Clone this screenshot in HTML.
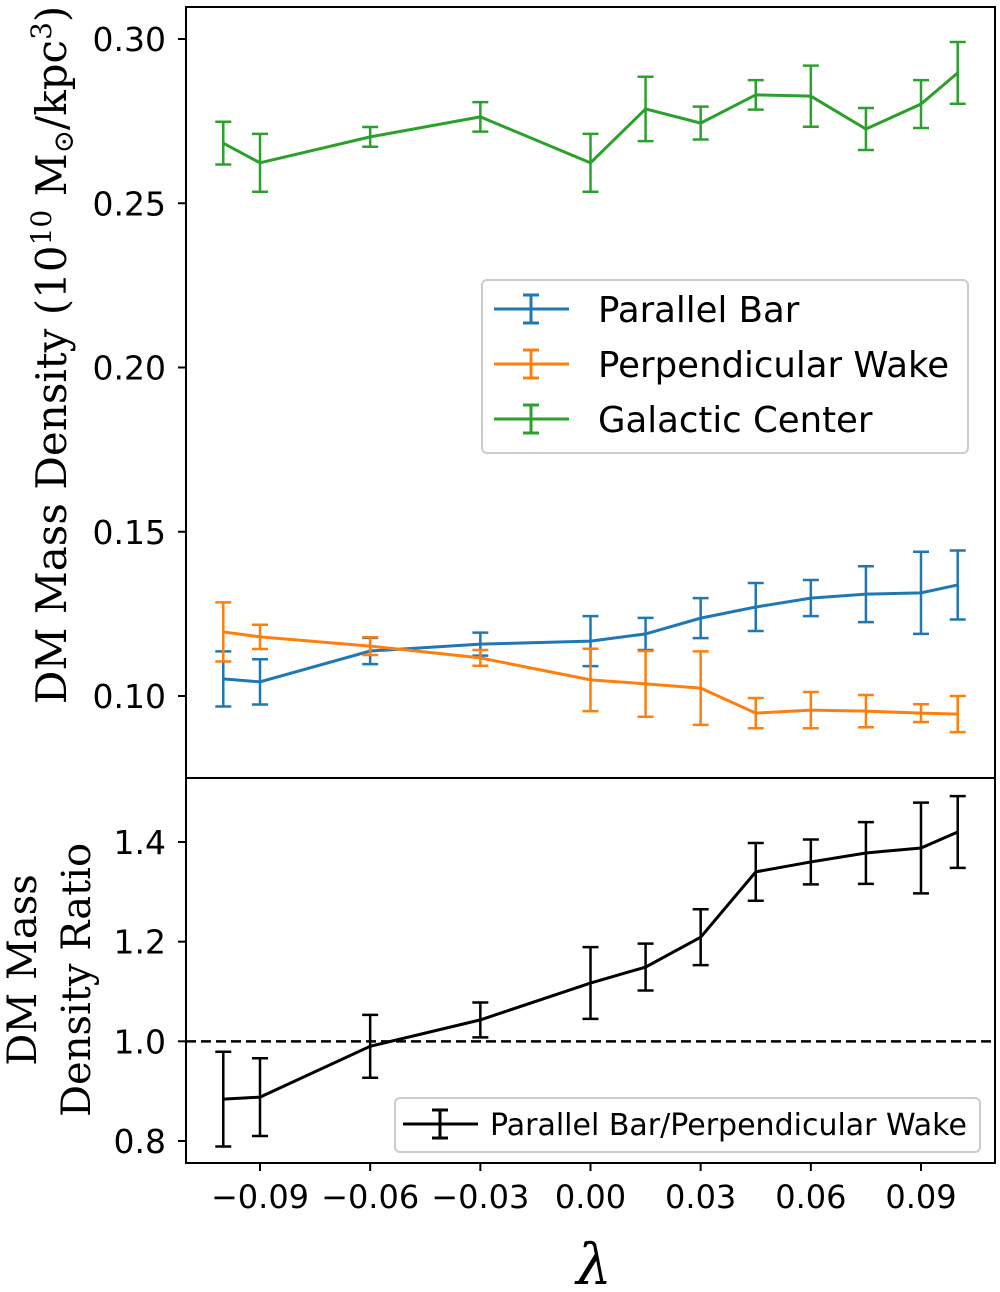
<!DOCTYPE html>
<html><head><meta charset="utf-8"><style>
body{margin:0;background:#fff;width:1000px;height:1292px;overflow:hidden}
svg{display:block}
</style></head><body>
<svg id="chart" width="1000" height="1292" xmlns="http://www.w3.org/2000/svg"></svg>
<script>
const xs=[-0.1,-0.09,-0.06,-0.03,0,0.015,0.03,0.045,0.06,0.075,0.09,0.1];
const greenVals=[0.2683,0.2623,0.2702,0.2763,0.2623,0.2787,0.2744,0.2830,0.2826,0.2726,0.2802,0.2897];
const greenErr=[0.0065,0.0088,0.003,0.0045,0.0088,0.0098,0.005,0.0045,0.0093,0.0064,0.0073,0.0094];
const blueVals=[0.1052,0.1043,0.1137,0.1158,0.1167,0.1189,0.1237,0.1271,0.1298,0.1310,0.1314,0.1338];
const blueErr=[0.0084,0.0069,0.004,0.0035,0.0076,0.0049,0.0061,0.0073,0.0055,0.0085,0.0125,0.0105];
const orangeVals=[0.1195,0.1180,0.1152,0.1116,0.1049,0.1037,0.1024,0.0948,0.0957,0.0954,0.0948,0.0945];
const orangeErr=[0.009,0.0037,0.0027,0.0024,0.0095,0.010,0.0112,0.0046,0.0055,0.0049,0.0027,0.0055];
const ratioVals=[0.884,0.888,0.990,1.043,1.117,1.149,1.209,1.340,1.360,1.378,1.388,1.420];
const ratioErr=[0.095,0.078,0.063,0.035,0.072,0.047,0.056,0.058,0.045,0.062,0.091,0.072];
const xTicks=[-0.09,-0.06,-0.03,0,0.03,0.06,0.09];
const xTickLabels=["\u22120.09","\u22120.06","\u22120.03","0.00","0.03","0.06","0.09"];
const topTicks=[0.10,0.15,0.20,0.25,0.30];
const topTickLabels=["0.10","0.15","0.20","0.25","0.30"];
const botTicks=[0.8,1.0,1.2,1.4];
const botTickLabels=["0.8","1.0","1.2","1.4"];

const NS="http://www.w3.org/2000/svg";
const svg=document.getElementById('chart');
function mk(tag,attrs,parent){const e=document.createElementNS(NS,tag);for(const k in attrs)e.setAttribute(k,attrs[k]);(parent||svg).appendChild(e);return e;}
const L=186,R=995,T1=7,B1=778,T2=778,B2=1163;
const X=v=>590.5+(v)*3672.2;
const Y1=v=>39+(0.30-v)*3285;
const Y2=v=>842+(1.4-v)*498.3;
const font='"DejaVu Sans","Liberation Sans",sans-serif';

function series(vals,errs,color,Y,name){
  const g=mk('g',{});
  
  
  const d=xs.map((x,i)=>(i?'L':'M')+X(x)+' '+Y(vals[i])).join(' ');
  const p=mk('path',{d:d,fill:'none',stroke:color,'stroke-width':3},g);
  
  
  xs.forEach((x,i)=>{
    const cx=X(x),y1=Y(vals[i]+errs[i]),y2=Y(vals[i]-errs[i]);
    const e=mk('path',{d:`M${cx} ${y1}L${cx} ${y2}M${cx-8} ${y1}L${cx+8} ${y1}M${cx-8} ${y2}L${cx+8} ${y2}`,stroke:color,'stroke-width':2.5,fill:'none'},g);
    
    
  });
}
let f1=mk('rect',{x:L,y:T1,width:R-L,height:B1-T1,fill:'none',stroke:'#000','stroke-width':2});

let f2=mk('rect',{x:L,y:T2,width:R-L,height:B2-T2,fill:'none',stroke:'#000','stroke-width':2});

topTicks.forEach((v,i)=>{
  mk('line',{x1:L-8,x2:L,y1:Y1(v),y2:Y1(v),stroke:'#000','stroke-width':2});
  const t=mk('text',{x:L-20,y:Y1(v)+12,'text-anchor':'end','font-size':33,'font-family':font});
  t.textContent=topTickLabels[i];
  
});
botTicks.forEach((v,i)=>{
  mk('line',{x1:L-8,x2:L,y1:Y2(v),y2:Y2(v),stroke:'#000','stroke-width':2});
  const t=mk('text',{x:L-20,y:Y2(v)+12,'text-anchor':'end','font-size':33,'font-family':font});
  t.textContent=botTickLabels[i];
  
});
xTicks.forEach((v,i)=>{
  mk('line',{x1:X(v),x2:X(v),y1:B2,y2:B2+8,stroke:'#000','stroke-width':2});
  const t=mk('text',{x:X(v),y:B2+45,'text-anchor':'middle','font-size':32,'font-family':font});
  t.textContent=xTickLabels[i];
  
});
let dl=mk('line',{x1:L,x2:R,y1:Y2(1.0),y2:Y2(1.0),stroke:'#000','stroke-width':2.5,'stroke-dasharray':'10,5'});

series(greenVals,greenErr,'#2ca02c',Y1,'galactic-center');
series(blueVals,blueErr,'#1f77b4',Y1,'parallel-bar');
series(orangeVals,orangeErr,'#ff7f0e',Y1,'perpendicular-wake');
series(ratioVals,ratioErr,'#000',Y2,'ratio');
function legend(x,y,w,h,items,fs,lx,tx,name){
  const g=mk('g',{});
  
  mk('rect',{x:x,y:y,width:w,height:h,rx:5,fill:'#fff','fill-opacity':0.8,stroke:'#ccc','stroke-width':2},g);
  items.forEach((it,i)=>{
    const cy=it.cy;
    mk('path',{d:`M${lx} ${cy}L${lx+75} ${cy}M${lx+37} ${cy-14}L${lx+37} ${cy+14}M${lx+29} ${cy-14}L${lx+45} ${cy-14}M${lx+29} ${cy+14}L${lx+45} ${cy+14}`,stroke:it.c,'stroke-width':3,fill:'none'},g);
    const t=mk('text',{x:tx,y:cy+fs*0.36,'font-size':fs,'font-family':font},g);
    t.textContent=it.t;
    
  });
}
legend(482,280,486,173,[{cy:309,c:'#1f77b4',t:'Parallel Bar'},{cy:364,c:'#ff7f0e',t:'Perpendicular Wake'},{cy:419,c:'#2ca02c',t:'Galactic Center'}],35.5,494,598,'top-legend');
legend(395,1098,585,54,[{cy:1124,c:'#000',t:'Parallel Bar/Perpendicular Wake'}],30,403,490,'bottom-legend');
const serif='"DejaVu Serif","Liberation Serif",serif';
let yl=mk('text',{x:0,y:0,transform:'translate(66,355) rotate(-90)','text-anchor':'middle','font-size':42,'font-family':serif});
yl.innerHTML='DM Mass Density (10<tspan dy="-15" font-size="28">10</tspan><tspan dy="15"> M</tspan><tspan dy="7" font-size="28">\u2299</tspan><tspan dy="-7">/kpc</tspan><tspan dy="-15" font-size="28">3</tspan><tspan dy="15">)</tspan>';

let yb1=mk('text',{x:0,y:0,transform:'translate(36,970) rotate(-90)','text-anchor':'middle','font-size':40,'font-family':serif});
yb1.textContent='DM Mass';

let yb2=mk('text',{x:0,y:0,transform:'translate(90,980) rotate(-90)','text-anchor':'middle','font-size':40,'font-family':serif});
yb2.textContent='Density Ratio';

let xl=mk('text',{x:594,y:1284,'text-anchor':'middle','font-size':56,'font-style':'italic','font-family':serif});
xl.textContent='\u03bb';

</script>
</body></html>
